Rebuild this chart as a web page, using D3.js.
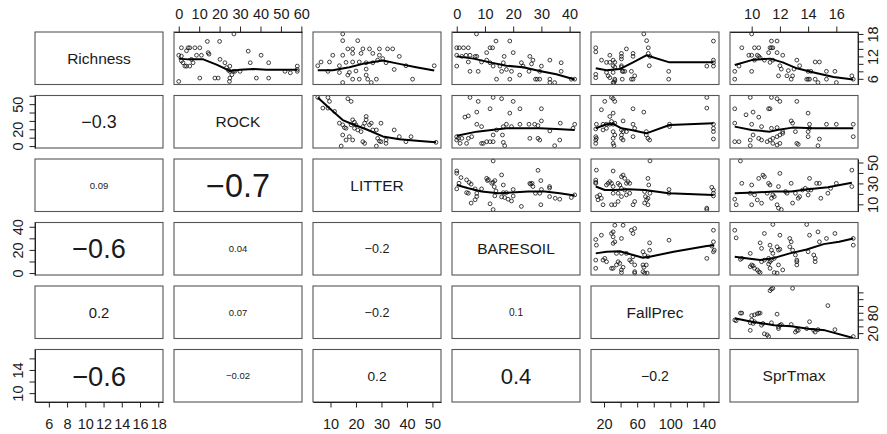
<!DOCTYPE html>
<html>
<head>
<meta charset="utf-8">
<script src="https://cdn.jsdelivr.net/npm/d3@7"></script>
<style>
  body { margin: 0; background: #fff; }
  svg { display: block; font-family: "Liberation Sans", Arial, Helvetica, sans-serif; }
</style>
</head>
<body>
<div id="chart"></div>
<script>
// variables on the diagonal, in order
const varNames = ["Richness", "ROCK", "LITTER", "BARESOIL", "FallPrec", "SprTmax"];
const varMin = [5, 0, 5, 0, 10, 8.8];
const varMax = [18, 58, 51.5, 42, 153, 17.2];
const varTicks = [
  [6, 8, 10, 12, 14, 16, 18],
  [0, 10, 20, 30, 40, 50, 60],
  [10, 20, 30, 40, 50],
  [0, 10, 20, 30, 40],
  [20, 40, 60, 80, 100, 120, 140],
  [10, 12, 14, 16]
];
// labelled ticks on the top/bottom axes
const outerLabels = [
  [6, 8, 10, 12, 14, 16, 18],
  [0, 10, 20, 30, 40, 50, 60],
  [10, 20, 30, 40, 50],
  [0, 10, 20, 30, 40],
  [20, 60, 100, 140],
  [10, 12, 14, 16]
];
// labelled ticks on the left/right axes
const sideLabels = [[6, 12, 18], [0, 20, 50], [10, 30, 50], [0, 20, 40], [20, 80], [10, 14]];

// correlations, lower triangle, row by row
const corRow1 = [-0.32];
const corRow2 = [0.09, -0.71];
const corRow3 = [-0.56, 0.04, -0.18];
const corRow4 = [0.24, 0.07, -0.18, 0.12];
const corRow5 = [-0.57, -0.02, 0.21, 0.43, -0.22];

// scatter points [x, y]; x = column variable, y = row variable
const p01 = [[27,18],[14,16],[20,16],[1.3,14.3],[4.6,14.3],[5.4,14.3],[7.9,14.3],[10.3,14.3],[14.4,13],[14.8,12.6],[3.8,13.5],[0,12.3],[1.3,12.1],[8.7,12.3],[11.1,12.3],[34,13.4],[40.3,12.3],[44,10.3],[35,10.3],[58,9.4],[58,8.5],[20.2,11.2],[22.6,10.3],[25,9.4],[23.4,9],[24.3,8.3],[26.7,8],[2.1,10.3],[3,9.4],[3.8,9.4],[5.4,9.4],[1.3,10.8],[25,8],[26,7.1],[25,6.2],[24.8,5.3],[10.3,6.2],[17.7,6.2],[19.3,6.2],[38,6.2],[44,6.2],[0,5.3],[52,8],[54.6,7.6],[58,8],[30,8],[27.5,8],[7,10.3],[6.2,11.2]];
const s01 = [[0,11.4],[4.6,11.2],[12,11.2],[18.5,9.8],[25,8.1],[30,8.4],[36.6,8.6],[43,8.4],[58,8.4]];

const p02 = [[14.8,18],[14.8,16.2],[20.7,16.2],[16.8,14],[18.7,14],[22.7,14],[25.3,14],[29.2,14],[32.4,14],[34.4,14],[10.9,12.3],[14.8,12.3],[18.7,12.8],[22,12.8],[26.6,12.8],[29.2,12.3],[37,12],[5,9.5],[6.3,10.5],[9.6,10.5],[13.5,9.5],[16.1,10.4],[18.7,10.5],[21.3,10.5],[24,10.3],[26.6,10.3],[31.8,10.3],[35,8.5],[39.6,9.5],[50.7,9.5],[9,8],[13.5,7.7],[16.8,7],[18.7,5.9],[21.3,5.9],[24,7],[24.6,5.9],[28,5.9],[42.2,5.9],[14.8,5],[26,5],[24,8.6],[20,8.1],[17.4,7.7],[30.5,11.4],[28.5,11]];
const s02 = [[5,8.3],[10.9,8.3],[17.4,9.1],[22.7,10],[30.5,10.9],[37,10],[43.6,9.1],[50.7,8.2]];

const p03 = [[7,18],[0,14.3],[0.9,14.3],[2.4,14.3],[4.1,14.3],[0,12.3],[1.8,12],[3.3,12.3],[4.7,12.3],[6.5,12],[7.1,12],[13.9,16.1],[18.8,16.1],[11.8,14.3],[12.7,14.3],[10.6,13],[16.8,12],[20,13],[25.9,12],[27,11],[26.5,10],[33,11],[37,10.3],[0,9.4],[4.1,10.5],[8.8,10.5],[10.6,11],[11.8,10.3],[12.9,9.4],[16.5,10.3],[22.9,10.3],[23.5,9.4],[4.7,8],[7.6,8],[15.3,9.4],[15.9,8],[17.6,8.5],[19.4,8],[22.3,7],[25.6,8],[29.4,8],[30,9.4],[14.1,5.9],[18.8,5.9],[27.9,5.9],[28.5,5.9],[29.4,5.9],[33,5.9],[33,5],[34.7,5],[37,8],[40.6,5.9],[41.8,5.9]];
const s03 = [[0,12],[5.9,11.4],[11.8,10.4],[17.6,9.5],[23.5,9.1],[29.4,8.1],[35.3,7.2],[41.8,5.8]];

const p04 = [[68,18],[10,14.3],[10,13.2],[71.4,16.2],[73.4,14.3],[73.4,12.8],[75.4,12],[74.6,9.5],[27,12.3],[41,12.8],[41,12],[41,11.3],[47,14],[55,12.8],[55,12],[17,11],[23,10.4],[27,10.4],[31,11],[33,10.4],[31,9.5],[33,9.1],[41,9.5],[41,9.1],[10,7.2],[10,6.3],[23,7.7],[25,6.8],[27,6.3],[31,7.7],[33,5.9],[31,5],[32,5],[33,5.5],[42,8],[43,8],[45,8],[53,8],[57,6.8],[42,5.9],[53,5.9],[55,5.9],[98,8],[98,5.9],[152,16.1],[152,11],[152,10.3],[152,9.4],[144,9.4]];
const s04 = [[10,8.8],[23,8.3],[39,8.6],[55,10.4],[71,12.3],[99,10.4],[152,10.4]];

const p05 = [[10,18],[11.4,16.1],[11.8,16.1],[9.3,14.3],[10.2,14.3],[10.5,14.3],[11.3,14.3],[11.4,14.3],[11.5,14.3],[11.2,13],[11.8,13],[12.2,12.3],[9.8,12.3],[10,12.3],[10.4,12.3],[10.5,12],[10.2,11],[10.6,11.6],[10.9,11],[11.3,10.4],[11.5,11],[8.8,8],[9.1,9.4],[10,8],[12,9.5],[12.1,8.6],[11.9,6.8],[12.5,6.8],[12.6,8.2],[12.8,5.9],[12.9,6.8],[13,8.6],[13.2,11],[13.4,9.5],[14,8],[14.2,8],[13.9,5.9],[14,5.9],[14.1,5.9],[14.5,5.9],[14.7,5],[14.5,10.5],[14.8,10.5],[15.3,8],[15.9,8],[15.3,5.9],[16,5],[17.1,6.8],[17.2,5.9],[8.8,5.9]];
const s05 = [[8.8,9.7],[10,11],[11.3,11.4],[12.2,10.4],[13.2,8.8],[14.4,7.7],[15.8,6.5],[17.2,5.8]];

const p12 = [[5,58],[9,58],[9.6,53.3],[7,45.3],[9,45.3],[11.6,41.3],[16.8,56.5],[18.1,53.3],[13.5,27.3],[14.8,25.3],[15.5,22],[18.1,25.3],[20,25.3],[22.7,23.2],[16.1,21.2],[19.4,21.2],[20.7,19.2],[22,17.2],[24,35.3],[24,31.3],[25.3,25.3],[26,27.3],[23.4,27.3],[29.8,27.3],[26.6,19.2],[28,19.2],[14.8,13.2],[16.1,7.2],[17.4,11.2],[18.7,7.2],[22.7,5.2],[23.4,3.2],[14.2,0],[28,0],[28.5,9.2],[29.2,6],[29.8,5.2],[31.8,3.2],[31.8,7.2],[35,19.2],[37,11.2],[39.6,5.2],[41.6,11.2],[18.7,31.3],[19.4,28.5],[51.4,4.4]];
const s12 = [[5,58],[9.6,45],[14.8,31],[18.7,26],[24,20],[30.5,11.5],[37,8],[45,6],[51.4,4.4]];

const p13 = [[4.7,58],[7.6,53.3],[12.9,58],[15.9,56.5],[20,53.3],[2.9,34.5],[4.1,36],[7.1,40.5],[11.8,44.5],[18.8,39.3],[22.4,44.5],[30,44.5],[7.1,26],[8.8,23.2],[17.6,26],[19.4,23.2],[22.4,26],[25.6,26],[27.6,26],[28.8,24.4],[30,30],[33,18],[36.7,27.3],[41.8,26],[14.1,19.2],[16.5,23.2],[12.9,13.2],[16.2,13.2],[0,11.2],[0,7.2],[0.6,9.2],[1.8,9.2],[4.1,9.2],[5.3,11.2],[8.8,3.2],[10.6,5.2],[11.8,5.2],[12.9,5.2],[16.5,4.4],[17,0.4],[25.9,9.2],[28.8,9.2],[29.4,7.2],[34.7,0.4],[36.5,7.2],[41.2,21.2],[1.2,3.2],[3.5,3.2],[9.4,3.2]];
const s13 = [[0,12.4],[7.1,17.2],[17.6,21.2],[29.4,21.2],[35.3,20.4],[41.8,19.2]];

const p14 = [[10,11.2],[10,7.2],[10,3.2],[10.8,9.2],[10,20.4],[16.8,43.3],[20.9,53.3],[29,58],[31,56.5],[33,53.3],[27,35.3],[31,39.3],[10.8,26],[18.8,26],[22.9,26],[27,26],[29,29.3],[31,26],[33,27.3],[18.8,19.2],[22.9,21.2],[31,17.2],[33,13.2],[31,9.2],[31,3.2],[32,0.4],[41,19.2],[43,17.2],[47,17.2],[41,13.2],[41,9.2],[43,7.2],[43,30],[55,44.5],[68,40.5],[55,11.2],[57,21.2],[55,26],[71,13.2],[73,9.2],[75,7.2],[71,17.2],[99,26],[99,23.2],[144,58],[144,45.3],[152,26],[152,21.2],[152,17.2],[152,8.4]];
const s14 = [[10,21.2],[22.9,26],[31,26.4],[41,21.2],[53,19.2],[71,15.2],[99,25.2],[152,27.3]];

const p15 = [[8.8,44.5],[9.9,58],[11.4,58],[11.8,56.5],[12,53.3],[13.2,53.3],[9.6,37.3],[10.1,40.5],[10.5,34.5],[11.2,44.5],[11.3,44.5],[14,39.3],[8.8,27.3],[10,26],[10.7,23.2],[12.8,30],[12.9,27.3],[14.1,26],[15.3,26],[16,26],[17.2,26],[11.4,21.2],[11.8,22],[12.2,17.2],[13.1,17.2],[14,17.2],[14.1,21.2],[10.1,13.2],[10.5,9.2],[10.7,7.2],[11.1,5.2],[11.3,7.2],[11.5,9.2],[11.8,11.2],[12,13.2],[12.2,15.2],[8.8,5.2],[9.1,5.2],[9.9,7.2],[9.9,0.4],[11.5,3.2],[11.8,1.2],[12,3.2],[13.2,3.2],[13.3,2],[14,11.2],[14.7,0.4],[14.8,8.4],[17.2,11.2]];
const s15 = [[8.8,23.2],[10,19.2],[11.3,17.2],[11.8,19.2],[12.9,22],[14.4,21.2],[17.2,21.2]];

const p23 = [[12.9,51.5],[0,41.9],[0,39.7],[1.5,35.6],[3.5,33.4],[4.4,30.9],[5.1,29.3],[0,24.8],[0.8,30.2],[3.5,21.2],[4.1,20.6],[6.5,24.8],[7.1,20.6],[7.1,17.5],[6.5,14.4],[5.1,11.2],[8.8,24.8],[10.6,34.9],[11.2,33.7],[10.9,32.7],[12.4,30.2],[12.9,31.1],[13.5,32.7],[13.3,26.8],[13.9,22.8],[13.5,18.1],[15.9,17.1],[16.5,21.2],[17,16.5],[17.6,21.2],[11.8,10.5],[12.9,5],[20,24.2],[20,17.9],[19.4,13.2],[15.9,38.1],[16.5,28.5],[18.2,14.9],[22.9,8],[25.9,30],[26.2,29.3],[26.7,30.1],[27,27],[28.8,42.5],[29.8,32.7],[30,24.2],[27.9,20.6],[29.4,20.6],[29.8,9.6],[32.9,27],[32.9,25.5],[32.9,17.4],[34.9,15.8],[36.5,14.9],[40.6,16.5],[41.8,19]];
const s23 = [[0,28.5],[4.1,25.3],[8.8,22.2],[14.7,20.6],[19.4,21.2],[25.3,22.2],[31.2,22.2],[36.5,20.6],[41.8,18.4]];

const p24 = [[10.8,42.7],[10,33.2],[10,31],[10,30.1],[11.8,17.4],[12.8,14.3],[14.8,19],[16.8,15.8],[18.8,9.6],[22.9,28.5],[24.9,30.1],[26.9,31.7],[29,30.1],[31,27],[31,20.6],[29,9.6],[33,9.6],[31,41.9],[41,36.4],[43,38],[45,34.8],[37,30.1],[39,28.5],[41,25.3],[47,30.1],[49,31.7],[51,30.1],[37,20.6],[45,23.7],[47,19],[51,20.6],[41,17.4],[37,12.7],[69,22.2],[70,17.4],[71.4,14.3],[73,15.8],[75.4,20.6],[74,28.5],[73,34.8],[75.4,51.5],[55,9.6],[57,12.7],[69,11.2],[73,9.6],[98.4,24.2],[98.4,20.6],[150,26.3],[152,23.7],[152,20.6],[152,18],[144,6.4],[144,5]];
const s24 = [[10,27],[21,23.7],[33,23.7],[49,24.5],[69,23.7],[98,20.6],[152,19]];

const p25 = [[9.2,51.5],[8.8,14.9],[8.9,9.6],[9.3,30.1],[10,28.5],[9.9,20.6],[10.2,19],[10,9.6],[10.4,14.2],[10.7,11.1],[10.5,34.8],[10.8,37.9],[10.9,36.4],[11.2,30.1],[11.3,28.5],[11.1,20.6],[11.4,15.8],[11.5,19],[11.6,17.4],[11.8,9.6],[11.9,6.4],[12.1,5],[12,39.6],[11.9,27],[12.4,22.2],[12.5,20.6],[12.8,30.1],[12.9,11.2],[13.1,20.6],[13.3,15.8],[13.4,17.4],[13.6,23.7],[13.8,25.3],[14,23.7],[14,19],[14.1,34.8],[14.2,23.7],[14.6,30.1],[14.8,30.1],[14.9,15.8],[15.4,20.6],[15.6,25.3],[16,30.1],[17.1,42.7],[17.1,27]];
const s25 = [[8.8,20.6],[10.2,21.2],[11.6,22.2],[12.8,22.2],[14,24.5],[15.4,26.3],[17.1,30.7]];

const p34 = [[10,29],[10.8,24.1],[10,11.2],[10,4.1],[16.8,32.7],[18.8,11.2],[20.9,12.7],[23,9.8],[29,34.2],[31,35.6],[31,25.6],[33,27],[31,31.3],[35,17],[37,9.8],[35,7],[39,8.4],[41,2.7],[41,0.4],[43,5],[29,4.1],[31,4.1],[33,41.3],[43,41.3],[41,29.9],[41,17],[47,17],[51,11.2],[55,14.1],[53,9.8],[57,7],[57,0],[57,1.2],[53,37],[55,34.2],[57,38.5],[67,18.4],[69,15.6],[71,7],[67,7],[68,5],[67,1.2],[69,0],[72,0],[75,26.1],[75,19.8],[73,14.1],[98.4,28.4],[152,37],[152,27],[153,19.8],[152,18.4],[144,12.7],[150,23.3]];
const s34 = [[10,17],[23,18.4],[39,18.9],[55,15.6],[67,13.3],[75,14.1],[104,18.4],[144,23.3],[153,24.1]];

const p35 = [[8.8,37],[8.9,30.4],[9.3,12.7],[9.2,11.8],[9.9,5.5],[10,7],[10.1,6.3],[10.2,4.1],[10.4,2.7],[10.5,1.2],[10.6,0.4],[9.9,17],[10.6,26.1],[10.7,21.3],[11.3,24.1],[11.4,19.8],[11.5,17],[11.8,22.7],[10.9,34.2],[11.5,42],[11.9,19.8],[12,20.5],[10.7,9.8],[10.9,11.2],[11.2,12.7],[11.3,9.8],[11.4,11.2],[11.6,12.7],[11.2,7.8],[11.3,4.1],[11.6,0.4],[11.8,0],[12.2,2.7],[11.9,7],[12,32.7],[12.7,29.9],[12.8,27],[12.7,22.7],[12.9,19.8],[13.1,15.6],[13.2,11.2],[13.2,9.8],[13.2,7],[13.9,42],[14,18.4],[14.1,32.7],[14.4,15.6],[14.5,12.7],[14.5,9.8],[14.7,35.6],[14.8,27],[15.3,29.9],[15.9,34.2],[17.2,29.9],[17.2,24.1]];
const s35 = [[8.8,14.1],[9.6,12.7],[10.6,11.2],[11.5,12.7],[12.7,17],[13.9,20.4],[15.1,25],[16.2,27],[17.2,29.9]];

const p45 = [[11.3,145],[11.4,150],[11.5,152],[12.9,152],[8.8,58.6],[8.9,56.6],[9.2,79],[9.3,79],[10,71.8],[10.2,73.8],[10.4,76.9],[10.5,79],[10.6,79],[9.9,50.5],[10.2,53.6],[9.9,28.2],[10,58.6],[10.1,48.5],[10.7,43.4],[10.8,48.5],[10.9,18.1],[11.1,15],[11.2,10],[11.4,50.5],[11.8,75.9],[11.9,38.4],[12,43.4],[12.1,45.5],[11.9,33.3],[12.8,45.5],[13.1,23.2],[13.2,28.2],[13.3,28.2],[13.9,33.3],[14.1,53.6],[14.4,28.2],[14.5,23.2],[14.7,30.3],[15.4,101],[15.9,30.3],[17.2,10]];
const s45 = [[8.8,63.7],[10,53.6],[11.6,43.4],[12.8,40.4],[14,33.3],[15.2,28.2],[17.2,6]];

// ---- layout ----
const width = 887, height = 434;
const margin = { left: 35, top: 32 };
const panelW = 128, panelH = 52.5, gap = 11;
const n = varNames.length;

const colX = j => margin.left + j * (panelW + gap);
const rowY = i => margin.top + i * (panelH + gap);

// R pairs() pads each range by 4%
const extent = k => {
  const pad = (varMax[k] - varMin[k]) * 0.04;
  return [varMin[k] - pad, varMax[k] + pad];
};
const xScale = j => d3.scaleLinear().domain(extent(j)).range([colX(j), colX(j) + panelW]);
const yScale = i => d3.scaleLinear().domain(extent(i)).range([rowY(i) + panelH, rowY(i)]);

const upper = [
  [0, 1, p01, s01], [0, 2, p02, s02], [0, 3, p03, s03], [0, 4, p04, s04], [0, 5, p05, s05],
  [1, 2, p12, s12], [1, 3, p13, s13], [1, 4, p14, s14], [1, 5, p15, s15],
  [2, 3, p23, s23], [2, 4, p24, s24], [2, 5, p25, s25],
  [3, 4, p34, s34], [3, 5, p35, s35],
  [4, 5, p45, s45]
];
const lower = [corRow1, corRow2, corRow3, corRow4, corRow5]
  .flatMap((row, k) => row.map((r, j) => ({ row: k + 1, col: j, r })));

const svg = d3.select("#chart").append("svg")
  .attr("width", width).attr("height", height);

const ink = "#1a1a1a";
const fmtCor = d3.format(".1r");
const corSize = d3.scaleLinear().domain([0.1, 0.7]).range([9.5, 32.4]).clamp(true);

// diagonal names
varNames.forEach((name, k) => {
  svg.append("text")
    .attr("x", colX(k) + panelW / 2)
    .attr("y", rowY(k) + panelH / 2)
    .attr("dy", "0.36em")
    .attr("text-anchor", "middle")
    .attr("font-size", 15.5)
    .attr("fill", ink)
    .text(name);
});

// correlation panels
lower.forEach(d => {
  svg.append("text")
    .attr("x", colX(d.col) + panelW / 2)
    .attr("y", rowY(d.row) + panelH / 2)
    .attr("dy", "0.36em")
    .attr("text-anchor", "middle")
    .attr("font-size", corSize(Math.abs(d.r)))
    .attr("fill", ink)
    .text(fmtCor(d.r));
});

// scatter panels with smoother
upper.forEach(([i, j, pts, smooth]) => {
  const x = xScale(j), y = yScale(i);
  const g = svg.append("g");
  g.selectAll("circle")
    .data(pts)
    .join("circle")
    .attr("cx", d => x(d[0]))
    .attr("cy", d => y(d[1]))
    .attr("r", 1.9)
    .attr("fill", "none")
    .attr("stroke", "#111")
    .attr("stroke-width", 0.8);

  const line = d3.line().x(d => x(d[0])).y(d => y(d[1]));
  g.append("path")
    .attr("d", line(smooth))
    .attr("fill", "none")
    .attr("stroke", "#000")
    .attr("stroke-width", 2)
    .attr("stroke-linejoin", "round");
});

// panel frames
for (let i = 0; i < n; i++) {
  for (let j = 0; j < n; j++) {
    svg.append("rect")
      .attr("x", colX(j)).attr("y", rowY(i))
      .attr("width", panelW).attr("height", panelH)
      .attr("fill", "none")
      .attr("stroke", "#555")
      .attr("stroke-width", 1.1);
  }
}

function styleAxis(g) {
  g.attr("font-family", null).attr("font-size", 14.5);
  g.selectAll("line, path").attr("stroke", "#222");
  g.selectAll("text").attr("fill", ink);
}

// top / bottom axes alternate by column
for (let j = 0; j < n; j++) {
  const onTop = j % 2 === 1;
  const labels = outerLabels[j];
  const axis = (onTop ? d3.axisTop(xScale(j)) : d3.axisBottom(xScale(j)))
    .tickValues(varTicks[j])
    .tickSize(5.5)
    .tickSizeOuter(0)
    .tickPadding(onTop ? 8 : 10.8)
    .tickFormat(d => labels.includes(d) ? d : "");
  svg.append("g")
    .attr("transform", `translate(0,${onTop ? rowY(0) : rowY(n - 1) + panelH})`)
    .call(axis)
    .call(styleAxis);
}

// left / right axes alternate by row, labels rotated along the axis
for (let i = 0; i < n; i++) {
  const onLeft = i % 2 === 1;
  const labels = sideLabels[i];
  const axis = (onLeft ? d3.axisLeft(yScale(i)) : d3.axisRight(yScale(i)))
    .tickValues(varTicks[i])
    .tickSize(5.5)
    .tickSizeOuter(0)
    .tickFormat(d => labels.includes(d) ? d : "");
  const g = svg.append("g")
    .attr("transform", `translate(${onLeft ? colX(0) : colX(n - 1) + panelW},0)`)
    .call(axis)
    .call(styleAxis);
  g.selectAll(".tick text")
    .attr("x", 0)
    .attr("dy", null)
    .attr("text-anchor", "middle")
    .attr("transform", `translate(${onLeft ? -12.3 : 20},0) rotate(-90)`);
}
</script>
</body>
</html>
